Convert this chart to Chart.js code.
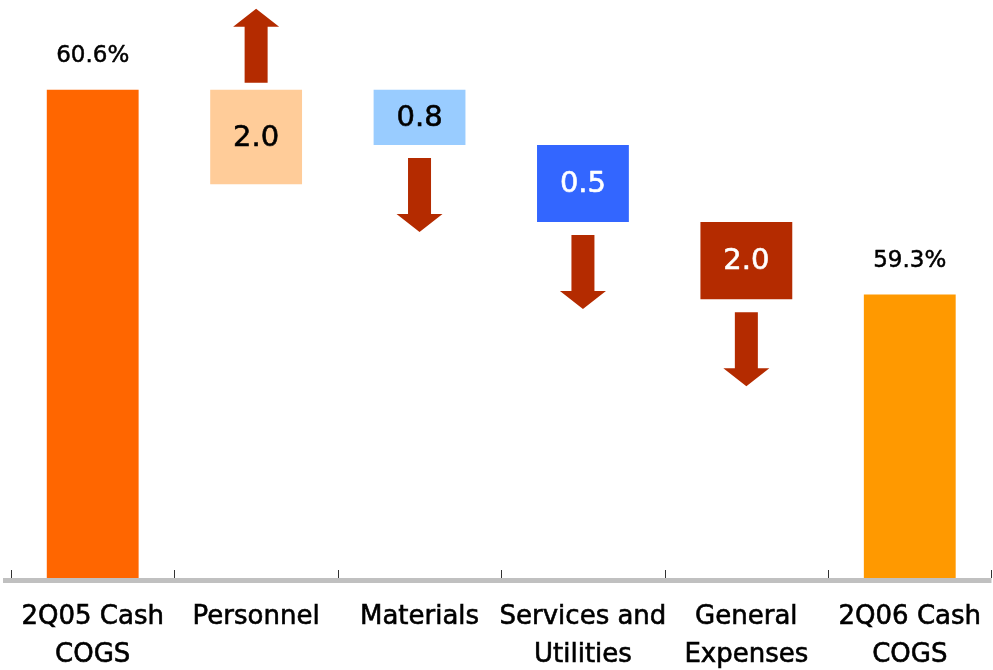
<!DOCTYPE html>
<html>
<head>
<meta charset="utf-8">
<script src="https://cdn.jsdelivr.net/npm/chart.js@4.4.1/dist/chart.umd.min.js"></script>
<style>
  html, body { margin: 0; padding: 0; background: #ffffff; overflow: hidden; }
  #wrap { position: relative; width: 993px; height: 670px; }
  #wrap canvas { display: block; }
</style>
</head>
<body>
<div id="wrap"><canvas id="cogs"></canvas></div>
<script>
// Cash COGS bridge, % of net revenue
const categories = [
  ['2Q05 Cash', 'COGS'],
  'Personnel',
  'Materials',
  ['Services and', 'Utilities'],
  ['General', 'Expenses'],
  ['2Q06 Cash', 'COGS']
];

// Opening and closing cash COGS (%)
const cashCogs = [60.6, null, null, null, null, 59.3];

// Change per cost line (p.p.); sign gives the arrow direction
const changes = [null, 2.0, -0.8, -0.5, -2.0, null];

// Where each change box sits on the axis
const boxTop    = [null, 60.6, 60.6, 60.25, 59.76, null];
const boxBottom = [null, 60.0, 60.25, 59.76, 59.27, null];

const endColors  = ['#FF6600', null, null, null, null, '#FF9900'];
const boxColors  = [null, '#FFCC99', '#99CCFF', '#3366FF', '#B42B00', null];
const boxText    = [null, '#000000', '#000000', '#FFFFFF', '#FFFFFF', null];
const arrowColor = '#B42B00';

const boxRanges = boxTop.map((t, i) => (t == null ? null : [boxBottom[i], t]));

const FONT = "'DejaVu Sans', 'Liberation Sans', sans-serif";

function heavyText(ctx, text, x, y, color, stroke) {
  ctx.fillStyle = color;
  ctx.strokeStyle = color;
  ctx.lineWidth = stroke;
  ctx.lineJoin = 'round';
  ctx.strokeText(text, x, y);
  ctx.fillText(text, x, y);
}

// Labels, direction arrows and the axis rule
const bridgeDecor = {
  id: 'bridgeDecor',
  afterDatasetsDraw(chart) {
    const ctx = chart.ctx;
    const area = chart.chartArea;
    const x = chart.scales.x;

    // axis rule
    ctx.save();
    ctx.fillStyle = '#C0C0C0';
    ctx.fillRect(area.left - 8, area.bottom, area.right - area.left + 8, 5);

    // category boundary ticks
    const step = x.getPixelForValue(1) - x.getPixelForValue(0);
    ctx.strokeStyle = '#333333';
    ctx.lineWidth = 1;
    for (let i = 0; i <= categories.length; i++) {
      const px = Math.round(x.getPixelForValue(0) - step / 2 + i * step) + 0.5;
      ctx.beginPath();
      ctx.moveTo(px, area.bottom - 8);
      ctx.lineTo(px, area.bottom);
      ctx.stroke();
    }

    // value labels above the opening/closing bars
    const endMeta = chart.getDatasetMeta(0);
    ctx.font = '23px ' + FONT;
    ctx.textAlign = 'center';
    ctx.textBaseline = 'alphabetic';
    endMeta.data.forEach((bar, i) => {
      if (cashCogs[i] == null) return;
      heavyText(ctx, cashCogs[i].toFixed(1) + '%', bar.x, bar.y - 28, '#000000', 0.5);
    });

    // change labels and arrows
    const boxMeta = chart.getDatasetMeta(1);
    boxMeta.data.forEach((bar, i) => {
      if (changes[i] == null) return;
      const top = Math.min(bar.y, bar.base);
      const bottom = Math.max(bar.y, bar.base);
      const mid = (top + bottom) / 2;

      ctx.font = '29px ' + FONT;
      ctx.textBaseline = 'middle';
      heavyText(ctx, Math.abs(changes[i]).toFixed(1), bar.x, mid + 1, boxText[i], 0.6);

      const len = 74, shaft = 23, head = 46, headLen = 18;
      const up = changes[i] > 0;
      const start = up ? top - 7 : bottom + 13;
      const tip = up ? start - len : start + len;
      const dir = up ? -1 : 1;
      const neck = tip - dir * headLen;
      ctx.fillStyle = arrowColor;
      ctx.beginPath();
      ctx.moveTo(bar.x - shaft / 2, start);
      ctx.lineTo(bar.x - shaft / 2, neck);
      ctx.lineTo(bar.x - head / 2, neck);
      ctx.lineTo(bar.x, tip);
      ctx.lineTo(bar.x + head / 2, neck);
      ctx.lineTo(bar.x + shaft / 2, neck);
      ctx.lineTo(bar.x + shaft / 2, start);
      ctx.closePath();
      ctx.fill();
    });
    ctx.restore();
  }
};

new Chart(document.getElementById('cogs'), {
  type: 'bar',
  data: {
    labels: categories,
    datasets: [
      {
        label: 'Cash COGS',
        data: cashCogs,
        backgroundColor: endColors,
        grouped: false,
        barPercentage: 0.562,
        categoryPercentage: 1
      },
      {
        label: 'Change',
        data: boxRanges,
        backgroundColor: boxColors,
        grouped: false,
        barPercentage: 0.562,
        categoryPercentage: 1
      }
    ]
  },
  options: {
    responsive: true,
    maintainAspectRatio: false,
    animation: false,
    layout: { padding: { left: 11, right: 0, top: 0, bottom: 0 } },
    plugins: {
      legend: { display: false },
      tooltip: { enabled: false }
    },
    scales: {
      x: {
        grid: { display: false },
        border: { display: false },
        ticks: {
          color: '#000000',
          textStrokeColor: '#000000',
          textStrokeWidth: 0.6,
          font: { family: FONT, size: 26, lineHeight: 1.46 },
          padding: 12,
          maxRotation: 0,
          autoSkip: false
        },
        afterFit(scale) { scale.height = 92; }
      },
      y: {
        display: false,
        min: 57.5,
        max: 61.17
      }
    }
  },
  plugins: [bridgeDecor]
});
</script>
</body>
</html>
